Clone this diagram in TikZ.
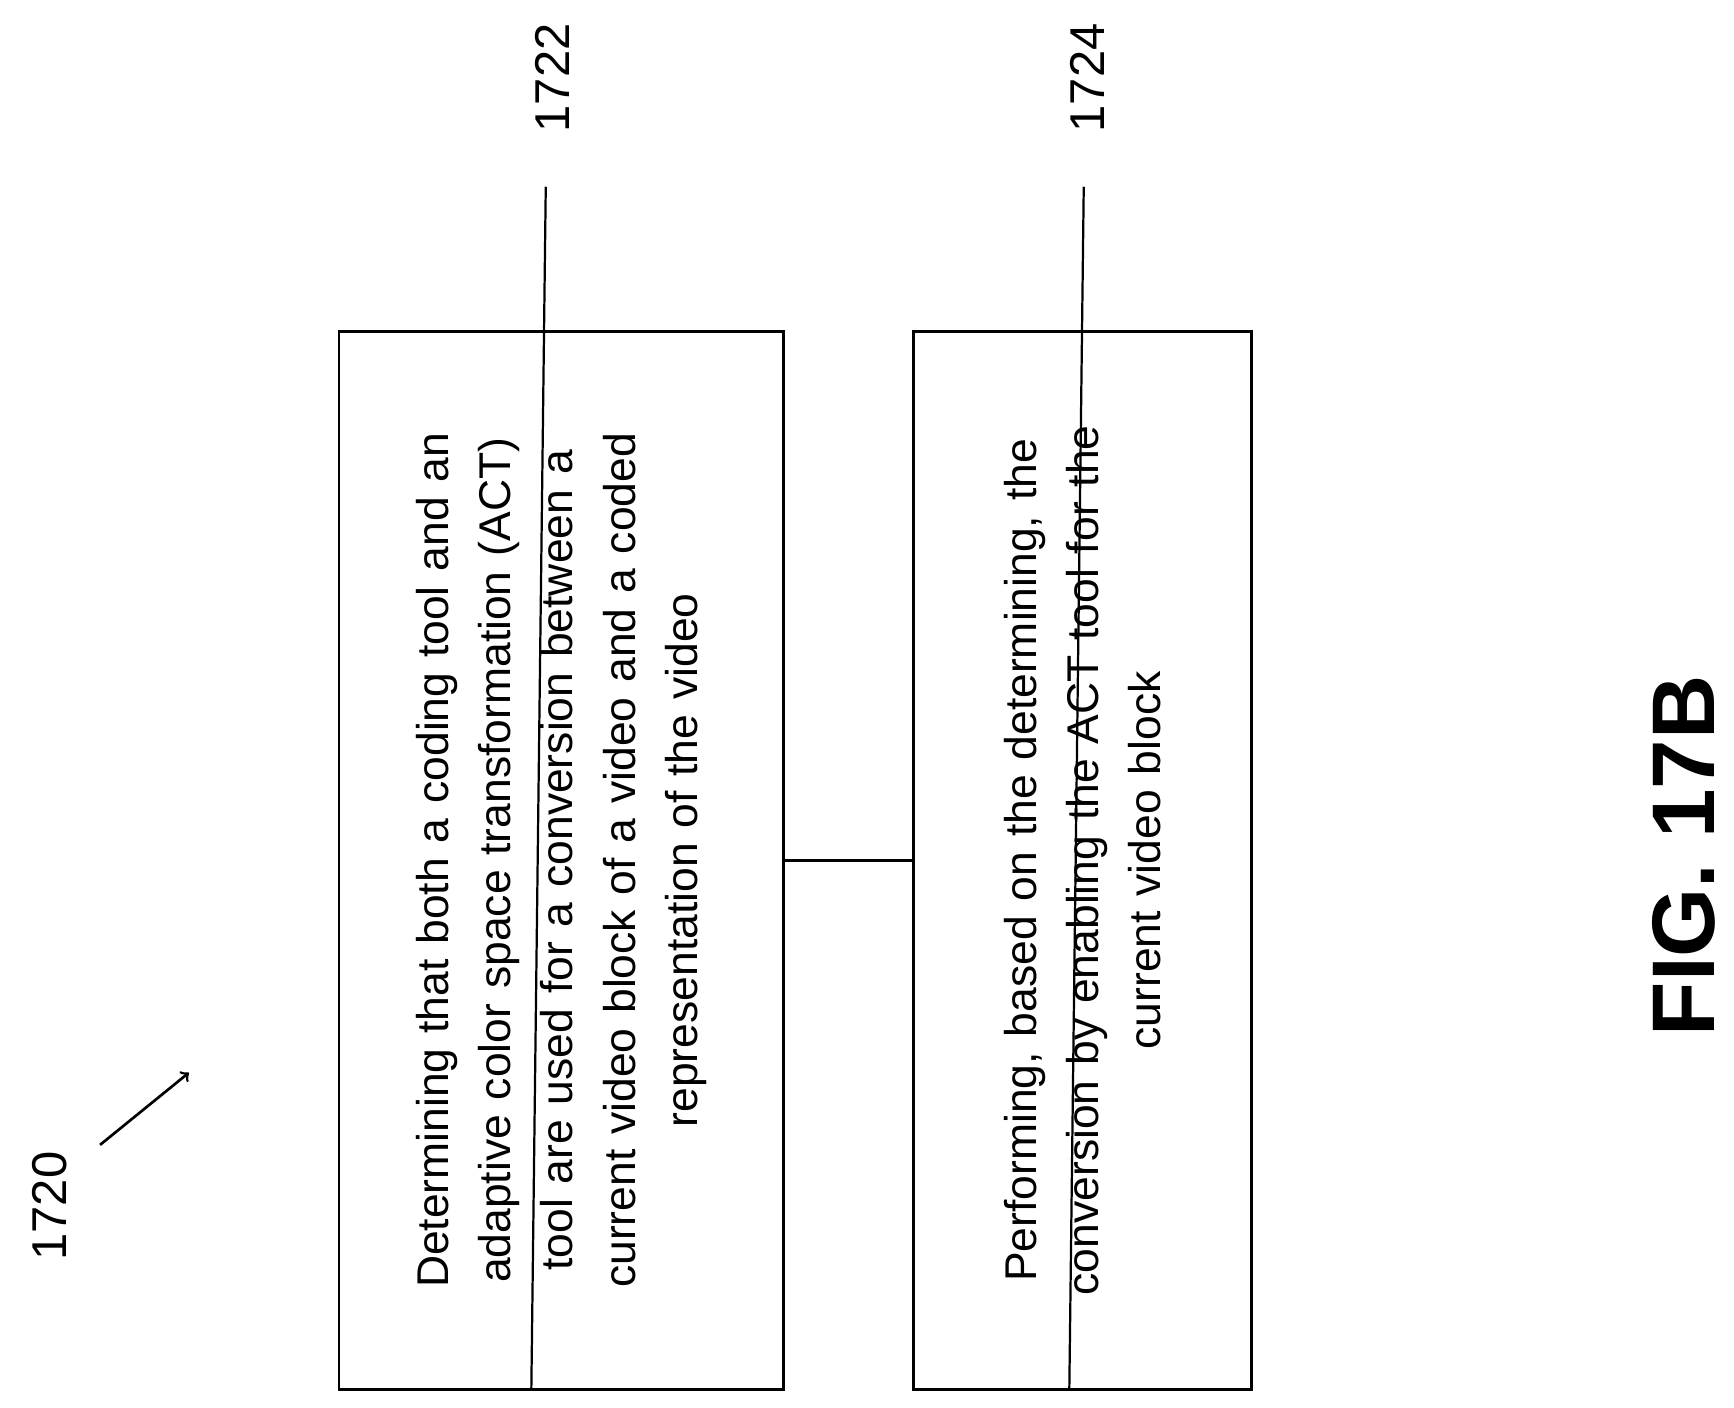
\documentclass[tikz,border=0pt]{standalone}
\usepackage{fontspec}
\setmainfont{Liberation Sans}
\usetikzlibrary{positioning}
\tikzset{
  step/.style={draw, line width=1.2pt, rotate=90, minimum height=#1, align=center,
    text width=430pt, font=\fontsize{20}{28}\selectfont, inner sep=0pt},
  ref/.style={rotate=90, font=\fontsize{22}{26}\selectfont},
}
\begin{document}
\begin{tikzpicture}[x=0.5pt,y=-0.5pt]
  \useasboundingbox (0,0) rectangle (1560,1266);
  \node[step=200pt, minimum width=476pt] (det) at (505,774) {Determining that both a coding tool and an\\adaptive color space transformation (ACT)\\tool are used for a conversion between a\\current video block of a video and a coded\\representation of the video};
  \node[step=152pt, minimum width=476pt] (perf) at (974,774) {Performing, based on the determining, the\\conversion by enabling the ACT tool for the\\current video block};
  \draw[line width=1.2pt] (det.south) -- (perf.north);

  \node[ref] (n1722) at (497,70) {1722};
  \node[ref] (n1724) at (978,70) {1724};
  \node[ref] (n1720) at (45,1085) {1720};
  \coordinate (c1722) at (491,168);
  \coordinate (c1724) at (975,168);
  \draw[line width=1pt] (c1722) -- (det.west -| 478,0);
  \draw[line width=1pt] (c1724) -- (perf.west -| 962,0);
  \coordinate (a1720) at (90,1030);
  \coordinate (b1720) at (170,965);
  \draw[line width=1.2pt, ->] (a1720) -- (b1720);

  \node[rotate=90, font=\fontsize{40}{44}\selectfont\bfseries] (fig) at (1515,770) {FIG. 17B};
\end{tikzpicture}
\end{document}
